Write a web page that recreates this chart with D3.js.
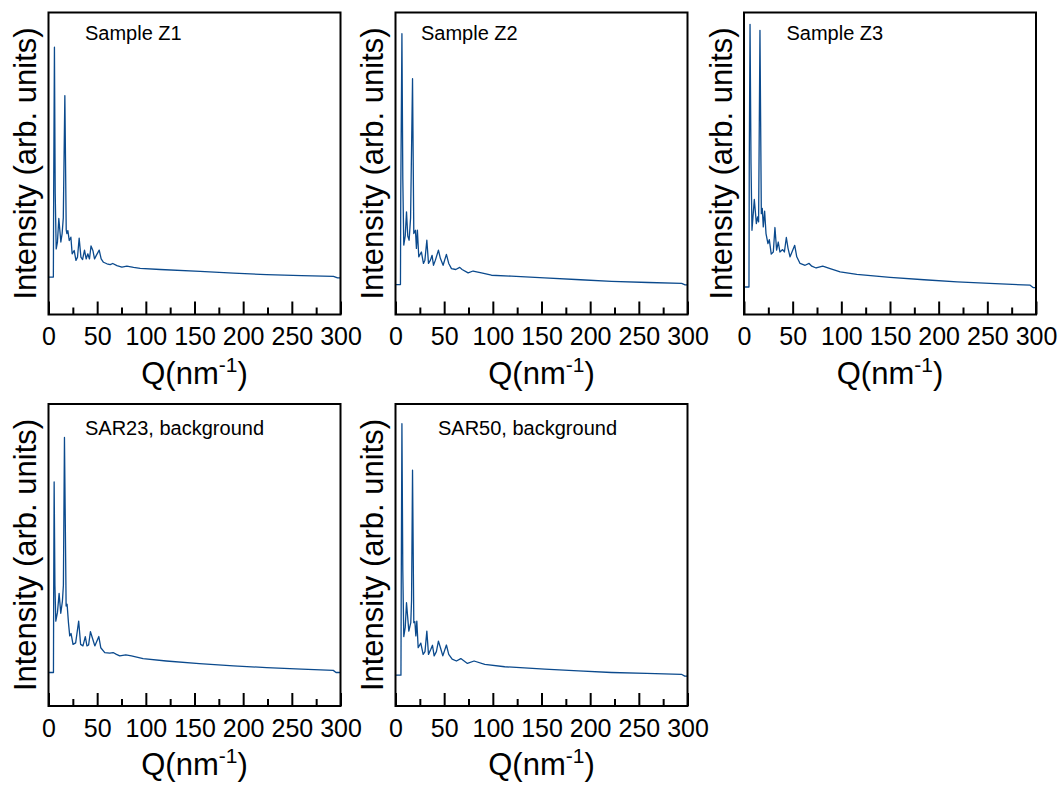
<!DOCTYPE html>
<html>
<head>
<meta charset="utf-8">
<script src="https://cdn.jsdelivr.net/npm/d3@7"></script>
<style>
  body { margin: 0; background: #fff; }
  text { font-family: "Liberation Sans", Arial, Helvetica, sans-serif; fill: #000; }
</style>
</head>
<body>
<div id="chart"></div>
<script>
// Data (intensity in arbitrary units, 0-100 per panel)
var titles = ["Sample Z1", "Sample Z2", "Sample Z3", "SAR23, background", "SAR50, background"];
var majorTicks = [0, 50, 100, 150, 200, 250, 300];
var minorTicks = [25, 75, 125, 175, 225, 275];

var qZ1 = [0, 5.0, 5.3, 6.1, 6.9, 7.9, 9.2, 10.6, 12.7, 14, 15.2, 16.8, 18.2, 18.9, 19.9, 21.3, 23, 24.3, 26.4, 28.2, 29.8, 31.5, 33.3, 35, 37, 38.7, 40.4, 42.1, 43.7, 45.6, 47.3, 49, 52.1, 54.1, 56.5, 60, 63.4, 66, 70.3, 75.4, 80.5, 87.4, 94.2, 114.8, 155.8, 190, 224, 260, 292.8, 297, 300];
var intZ1 = [12.4, 12.4, 40, 88.5, 40, 21.7, 24, 31.8, 24, 26.8, 32, 72.5, 28, 26.8, 27.8, 24.5, 25.6, 20.1, 21.2, 17.9, 19, 25.3, 19, 18.2, 21.3, 18.4, 20.1, 18.4, 22.7, 21.2, 18.4, 19.5, 21.3, 18.4, 17.3, 16.8, 16.5, 16.9, 16.2, 15.7, 16, 15.6, 15.3, 14.9, 14.3, 13.7, 13.2, 12.9, 12.6, 12.1, 12.1];

var qZ2 = [0, 5.1, 5.4, 6.6, 7.5, 8.5, 10, 11.3, 12.6, 14, 15.5, 17.5, 18.8, 20.5, 21.5, 22.5, 23.9, 26.6, 28.7, 30.2, 32.2, 33.9, 35.9, 37.6, 39, 41, 44.1, 46.1, 48.9, 52.3, 54.7, 57.5, 61.9, 66, 68.4, 74.6, 79.7, 88.3, 98.6, 119, 153, 190, 222, 260, 294, 297.5, 300];
var intZ2 = [9.9, 9.9, 40, 93, 45, 23, 26, 34, 26, 24.6, 32, 78.1, 26.8, 27.9, 21.9, 27.9, 19.1, 20.7, 16.9, 18, 24.6, 16.9, 18, 19.6, 16.3, 18, 21.3, 18.6, 16.3, 19.9, 16.9, 15.2, 14.9, 15.6, 14.9, 13.8, 14.4, 13.8, 13, 12.7, 12.1, 11.5, 11, 10.6, 10.3, 9.8, 9.8];

var qZ3 = [0, 5.1, 5.4, 6.2, 7.2, 8.2, 10.6, 12.7, 14, 15, 16.4, 17.8, 18.8, 19.8, 21.2, 22.6, 24.6, 26, 28, 30.1, 31.8, 33.5, 35.2, 36.9, 39.7, 41.5, 43.5, 45.2, 47.3, 49.3, 52.1, 54.2, 57.6, 62.8, 66.9, 69.6, 74.1, 80.9, 88.5, 98.8, 115.9, 150, 185, 219, 258, 294, 297, 300];
var intZ3 = [9.1, 9.1, 50, 96.1, 50, 27.9, 38.1, 30.1, 32.3, 30.7, 94.1, 33.4, 35.1, 29, 34.2, 26.8, 23.5, 24.8, 20, 20.7, 28.8, 21.3, 24, 20.7, 21.5, 20.7, 25.5, 22, 19.1, 20.7, 22.9, 19.1, 16.9, 16.3, 16.9, 16, 15.4, 16, 15.2, 14.1, 13.3, 12.3, 11.5, 10.8, 10.2, 9.7, 8.9, 8.9];

var qSAR23 = [0, 5.1, 5.3, 5.8, 6.6, 7.5, 9.2, 10.9, 12.6, 14.3, 15.3, 16.4, 18.1, 19.1, 20.5, 21.8, 23.2, 25.2, 27.9, 31, 33, 35.4, 37.8, 39.5, 41.2, 43.1, 45.5, 47.6, 51.7, 53.7, 57.8, 62.9, 66.4, 69.8, 73.2, 79.4, 85.2, 97.2, 121, 155, 190, 224, 260, 292.6, 295.4, 300];
var intSAR23 = [11.1, 11.1, 35, 74.2, 40, 28.1, 31, 37.3, 30.7, 34.7, 40, 88.9, 33.1, 33.7, 27.6, 23.2, 24, 20.4, 20.9, 28.1, 20.4, 19.9, 23, 19.9, 20.2, 24.6, 22.1, 19.9, 23, 19.3, 17.7, 17.5, 17.7, 17.1, 16.6, 16.9, 16.6, 15.7, 14.9, 14, 13.3, 12.7, 12.2, 11.8, 11.1, 11.1];

var qSAR50 = [0, 5.6, 5.9, 6.6, 7.5, 8.5, 10, 11.3, 13.7, 15.7, 16.5, 17.5, 18.8, 19.9, 20.9, 21.9, 23.3, 26, 28.4, 30.3, 32.2, 33.9, 36.3, 38, 39.7, 42, 44.1, 46.2, 48.6, 52.3, 54.7, 58.2, 62.6, 67.1, 73.9, 80.7, 91.7, 112.2, 153.3, 188, 221.8, 258, 293.7, 297.2, 300];
var intSAR50 = [10.2, 10.2, 40, 93.5, 45, 23, 26, 34.2, 24.8, 27.6, 35, 78.1, 27.6, 27.9, 23.2, 28.1, 19.3, 20.8, 17.1, 18, 24.8, 17.1, 18.8, 20.1, 16.6, 18, 21.5, 19.3, 16.6, 20.2, 17.1, 15.5, 14.9, 15.7, 14.1, 14.9, 13.8, 13, 12.2, 11.6, 11.1, 10.8, 10.5, 9.9, 9.9];

var seriesQ = [qZ1, qZ2, qZ3, qSAR23, qSAR50];
var seriesI = [intZ1, intZ2, intZ3, intSAR23, intSAR50];

// layout
var svgWidth = 1059;
var svgHeight = 789;
var pw = 292, ph = 302;
var lefts = [48.5, 395.5, 744, 48.5, 395.5];
var tops = [12.5, 12.5, 12.5, 404, 404];
var titleX = [36.5, 25.5, 42.5, 36.5, 42.5];
var titleY = [27.5, 27.5, 27.5, 31, 31];
var lineColor = "#0b4a8d";

var svg = d3.select("#chart")
    .append("svg")
    .attr("width", svgWidth)
    .attr("height", svgHeight);

var x = d3.scaleLinear().domain([0, 300]).range([0, pw]);
var y = d3.scaleLinear().domain([0, 100]).range([ph, 0]);

titles.forEach(function(title, i) {
    var g = svg.append("g")
        .attr("transform", `translate(${lefts[i]}, ${tops[i]})`);

    var pts = seriesQ[i].map(function(q, j) { return [q, seriesI[i][j]]; });

    var line = d3.line()
        .x(d => x(d[0]))
        .y(d => y(d[1]));

    g.append("path")
        .datum(pts)
        .attr("d", line)
        .attr("fill", "none")
        .attr("stroke", lineColor)
        .attr("stroke-width", 1.3)
        .attr("stroke-linejoin", "round");

    // major ticks with labels (pointing inward)
    var major = g.append("g")
        .attr("transform", `translate(0, ${ph})`)
        .call(d3.axisBottom(x).tickValues(majorTicks).tickSizeInner(-13).tickSizeOuter(0).tickPadding(13));
    major.select(".domain").remove();
    major.selectAll("line").attr("stroke", "#000").attr("stroke-width", 2);
    major.selectAll("text")
        .style("font-size", "25px")
        .style("font-family", "'Liberation Sans', Arial, sans-serif");

    // minor ticks
    var minor = g.append("g")
        .attr("transform", `translate(0, ${ph})`)
        .call(d3.axisBottom(x).tickValues(minorTicks).tickSizeInner(-7).tickSizeOuter(0).tickFormat(""));
    minor.select(".domain").remove();
    minor.selectAll("line").attr("stroke", "#000").attr("stroke-width", 2);

    // frame
    g.append("rect")
        .attr("width", pw)
        .attr("height", ph)
        .attr("fill", "none")
        .attr("stroke", "#000")
        .attr("stroke-width", 2);

    // panel title
    g.append("text")
        .attr("x", titleX[i])
        .attr("y", titleY[i])
        .style("font-size", "20px")
        .text(title);

    // axis labels
    g.append("text")
        .attr("transform", `translate(-12.5, ${ph / 2}) rotate(-90)`)
        .attr("text-anchor", "middle")
        .style("font-size", "31px")
        .text("Intensity (arb. units)");

    var xt = g.append("text")
        .attr("x", pw / 2)
        .attr("y", ph + 69)
        .attr("text-anchor", "middle")
        .style("font-size", "31px");
    xt.append("tspan").text("Q(nm");
    xt.append("tspan").attr("dy", -12).style("font-size", "21px").text("-1");
    xt.append("tspan").attr("dy", 12).text(")");
});
</script>
</body>
</html>
